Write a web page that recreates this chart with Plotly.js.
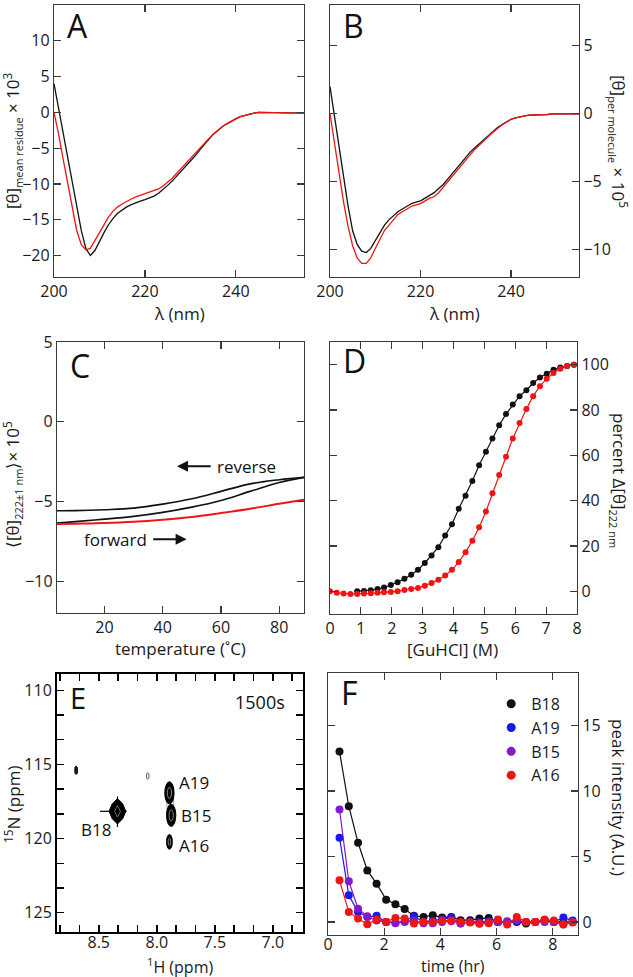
<!DOCTYPE html>
<html><head><meta charset="utf-8">
<script src="https://cdn.plot.ly/plotly-3.0.1.min.js"></script>
<style>html,body{margin:0;padding:0;background:#fff}</style>
</head><body>
<div id="chart" style="width:633px;height:977px"></div>
<script>
// ---- Panel A / B : CD spectra ----
const wavelength = [200,201,202,203,204,205,206,207,208,209,210,211,212,213,214,215,216,217,218,219,220,221,222,223,224,225,226,227,228,229,230,231,232,233,234,235,236,237,238,239,240,241,242,243,244,245,246,247,248,249,250,251,252,253,254,255];
const aBlack = [4.0,0.6,-2.9,-6.3,-9.7,-13.2,-16.5,-19.0,-20.0,-19.3,-18.0,-16.8,-15.7,-14.8,-14.1,-13.6,-13.2,-12.9,-12.6,-12.4,-12.2,-12.0,-11.7,-11.3,-10.8,-10.2,-9.6,-8.9,-8.3,-7.6,-6.9,-6.1,-5.3,-4.5,-3.8,-3.1,-2.5,-2.0,-1.6,-1.2,-0.9,-0.6,-0.4,-0.2,-0.1,0.0,0.0,0.0,0.0,0.0,0.0,0.0,0.0,-0.1,-0.1,-0.1];
const aRed   = [0.0,-3.0,-6.5,-10.0,-13.5,-16.5,-18.5,-19.2,-19.0,-17.9,-16.7,-15.6,-14.6,-13.8,-13.2,-12.8,-12.4,-12.1,-11.8,-11.6,-11.4,-11.2,-11.0,-10.7,-10.3,-9.8,-9.2,-8.5,-7.8,-7.1,-6.4,-5.7,-5.0,-4.3,-3.7,-3.1,-2.5,-2.0,-1.6,-1.2,-0.9,-0.6,-0.4,-0.2,-0.1,0.0,0.0,0.0,0.0,0.0,0.0,0.0,0.0,-0.1,-0.1,-0.1];
const bBlack = [2.0,-0.2,-2.4,-4.6,-6.8,-8.6,-9.6,-10.1,-10.2,-9.9,-9.3,-8.7,-8.2,-7.8,-7.5,-7.2,-7.0,-6.8,-6.6,-6.5,-6.4,-6.2,-6.0,-5.8,-5.5,-5.2,-4.8,-4.4,-4.0,-3.6,-3.2,-2.8,-2.5,-2.2,-1.9,-1.6,-1.3,-1.0,-0.8,-0.6,-0.4,-0.3,-0.2,-0.15,-0.1,-0.1,-0.05,-0.05,-0.05,0.0,0.0,0.0,0.0,0.0,0.0,0.0];
const bRed   = [0.0,-2.2,-4.4,-6.5,-8.3,-9.7,-10.6,-11.0,-11.0,-10.6,-9.9,-9.2,-8.6,-8.2,-7.8,-7.4,-7.2,-7.0,-6.8,-6.7,-6.6,-6.4,-6.2,-6.1,-5.8,-5.4,-5.0,-4.6,-4.2,-3.8,-3.4,-3.0,-2.6,-2.3,-1.95,-1.65,-1.35,-1.05,-0.8,-0.6,-0.4,-0.3,-0.2,-0.15,-0.1,-0.1,-0.05,-0.05,-0.05,0.0,0.0,0.0,0.0,0.0,0.0,0.0];

// ---- Panel C : thermal melt ----
const cTemp    = [3.7,10,20,30,40,50,60,70,80,88.5];
const cReverse = [-5.59,-5.58,-5.52,-5.42,-5.17,-4.83,-4.37,-3.90,-3.64,-3.49];
const cForward = [-6.36,-6.27,-6.11,-5.94,-5.69,-5.36,-4.94,-4.37,-3.81,-3.49];
const cRed     = [-6.42,-6.40,-6.36,-6.28,-6.15,-5.98,-5.73,-5.46,-5.15,-4.90];

// ---- Panel D : GuHCl denaturation ----
const dGuRed = [0,0.22,0.44,0.66,0.88,1.10,1.32,1.54,1.75,1.97,2.19,2.41,2.63,2.85,3.07,3.29,3.51,3.73,3.95,4.17,4.39,4.61,4.83,5.05,5.26,5.48,5.70,5.92,6.14,6.36,6.58,6.80,7.02,7.24,7.46,7.68,7.90];
const dRed   = [0,-0.6,-1.0,-1.2,-1.2,-1.0,-0.9,-0.6,-0.4,-0.3,0,0.6,1.0,1.5,2.5,3.7,5.1,7.0,9.5,12.9,17.2,22.3,28.3,35.2,43.3,51.3,59.4,67.4,74.3,80.4,86.1,90.5,93.8,96.3,98.2,99.4,100];
const dGuBlack = [0.88,1.10,1.32,1.54,1.75,1.97,2.19,2.41,2.63,2.85,3.07,3.29,3.51,3.73,3.95,4.17,4.39,4.61,4.83,5.05,5.26,5.48,5.70,5.92,6.14,6.36,6.58,6.80,7.02,7.24,7.46,7.68,7.90];
const dBlack   = [0.0,0.1,0.5,1.0,1.7,2.8,4.0,5.5,7.3,9.5,12.5,15.8,19.5,24.6,29.6,36.4,42.2,48.7,55.6,61.6,67.4,73.3,78.2,82.4,86.1,88.7,91.9,94.3,96.0,97.8,98.7,99.4,100];

// ---- Panel E : HSQC peaks ----
const peakLabels = ['B18','A19','B15','A16'];
const peakH  = [8.339, 7.891, 7.876, 7.891];
const peakN  = [118.16, 116.92, 118.43, 120.22];
const peakHalfH = [0.072, 0.040, 0.040, 0.025];
const peakHalfN = [0.85, 0.75, 0.75, 0.50];
const minorH = [8.695, 8.078];
const minorN = [115.39, 115.78];
const labelH = [8.374, 7.830, 7.808, 7.830];
const labelN = [119.37, 116.25, 118.45, 120.45];

// ---- Panel F : peak intensity decay ----
const fTime = [0.41,0.74,1.07,1.40,1.73,2.07,2.40,2.73,3.06,3.40,3.73,4.06,4.39,4.72,5.06,5.39,5.72,6.05,6.38,6.72,7.05,7.38,7.71,8.04,8.38,8.71];
const fB18 = [13.0,8.83,6.04,3.93,2.92,1.70,1.35,0.99,0.46,0.38,0.51,0.33,0.38,0.13,0.13,0.25,0.30,0.0,0.0,0.0,-0.13,0.0,0.1,0.0,0.0,0.0];
const fA19 = [6.42,2.03,0.76,0.38,0.46,0.0,-0.05,0.05,0.43,0.0,0.1,0.2,0.33,-0.13,0.0,0.0,0.05,0.0,-0.05,0.05,0.0,0.0,0.1,0.0,0.33,0.1];
const fB15 = [8.58,3.10,1.00,0.43,0.10,0.0,-0.1,0.0,0.1,-0.1,-0.1,0.0,0.05,-0.1,0.0,-0.1,0.0,0.0,0.05,0.1,0.0,0.0,0.0,0.0,-0.2,0.0];
const fA16 = [3.17,0.76,0.25,-0.18,0.18,0.0,0.3,0.25,-0.13,0.0,0.0,0.1,0.1,0.0,-0.05,-0.15,-0.1,0.18,-0.2,0.38,0.0,0.0,0.18,0.1,-0.18,-0.05];

const FONT = 'Open Sans, sans-serif';
const BLUE = 'rgb(25,25,235)', PURPLE = 'rgb(130,25,205)', RED = 'rgb(240,20,20)';

const traces = [];
function line(x,y,xa,ya,color,w,shape){traces.push({x:x,y:y,xaxis:xa,yaxis:ya,mode:'lines',line:{color:color,width:w,shape:shape||'linear'},showlegend:false,hoverinfo:'skip'});}
function lm(x,y,xa,ya,color,ms){traces.push({x:x,y:y,xaxis:xa,yaxis:ya,mode:'lines+markers',line:{color:color,width:1.2},marker:{color:color,size:ms},showlegend:false,hoverinfo:'skip'});}

line(wavelength,aBlack,'x','y','#111',1.3);
line(wavelength,aRed,'x','y',RED,1.3);
line(wavelength,bBlack,'x2','y2','#111',1.3);
line(wavelength,bRed,'x2','y2',RED,1.3);
line(cTemp,cReverse,'x3','y3','#111',1.6,'spline');
line(cTemp,cForward,'x3','y3','#111',1.6,'spline');
line(cTemp,cRed,'x3','y3',RED,2.0,'spline');
lm(dGuBlack,dBlack,'x4','y4','#111',6);
lm(dGuRed,dRed,'x4','y4',RED,6);
lm(fTime,fB18,'x6','y6','#111',8);
lm(fTime,fA19,'x6','y6',BLUE,8);
lm(fTime,fB15,'x6','y6',PURPLE,8);
lm(fTime,fA16,'x6','y6',RED,8);
// legend-only entries (markers only)
[['B18','#111'],['A19',BLUE],['B15',PURPLE],['A16',RED]].forEach(function(p){
  traces.push({x:[null],y:[null],xaxis:'x6',yaxis:'y6',mode:'markers',name:p[0],marker:{color:p[1],size:9},showlegend:true});
});

// Panel E peaks as shapes through axis scales
const shapes = [];
shapes.push({type:'circle',xref:'x5',yref:'y5',x0:peakH[1]+0.022,x1:peakH[2]-0.022,y0:peakN[1]-0.3,y1:peakN[2]+0.3,line:{color:'#888',width:0.8},fillcolor:'rgba(0,0,0,0)'});
for(let i=1;i<4;i++){
  shapes.push({type:'circle',xref:'x5',yref:'y5',x0:peakH[i]-peakHalfH[i],x1:peakH[i]+peakHalfH[i],y0:peakN[i]-peakHalfN[i],y1:peakN[i]+peakHalfN[i],line:{color:'#000',width:1},fillcolor:'#000'});
  shapes.push({type:'circle',xref:'x5',yref:'y5',x0:peakH[i]-peakHalfH[i]*0.45,x1:peakH[i]+peakHalfH[i]*0.45,y0:peakN[i]-peakHalfN[i]*0.5,y1:peakN[i]+peakHalfN[i]*0.5,line:{color:'#bbb',width:0.7},fillcolor:'rgba(0,0,0,0)'});
}
// B18 diamond-like peak (convex outline from centre and half-widths)
const h0=peakH[0], n0=peakN[0], hw=peakHalfH[0], hn=peakHalfN[0];
traces.push({x:[h0+hw,h0+hw*0.62,h0,h0-hw*0.62,h0-hw,h0-hw*0.62,h0,h0+hw*0.62,h0+hw],
  y:[n0,n0-hn*0.6,n0-hn,n0-hn*0.6,n0,n0+hn*0.6,n0+hn,n0+hn*0.6,n0],
  xaxis:'x5',yaxis:'y5',mode:'lines',fill:'toself',fillcolor:'#000',line:{color:'#000',width:1},showlegend:false,hoverinfo:'skip'});
traces.push({x:[h0+0.15,h0-0.08],y:[n0,n0],xaxis:'x5',yaxis:'y5',mode:'lines',line:{color:'#000',width:1.2},showlegend:false,hoverinfo:'skip'});
traces.push({x:[h0,h0],y:[n0-1.0,n0+1.05],xaxis:'x5',yaxis:'y5',mode:'lines',line:{color:'#000',width:1.2},showlegend:false,hoverinfo:'skip'});
traces.push({x:[h0+hw*0.35,h0,h0-hw*0.35,h0,h0+hw*0.35],y:[n0,n0-hn*0.45,n0,n0+hn*0.45,n0],xaxis:'x5',yaxis:'y5',mode:'lines',line:{color:'#999',width:0.7},showlegend:false,hoverinfo:'skip'});
// minor peaks
shapes.push({type:'circle',xref:'x5',yref:'y5',x0:minorH[0]-0.012,x1:minorH[0]+0.012,y0:minorN[0]-0.28,y1:minorN[0]+0.28,line:{color:'#000',width:1},fillcolor:'#222'});
shapes.push({type:'circle',xref:'x5',yref:'y5',x0:minorH[1]-0.011,x1:minorH[1]+0.011,y0:minorN[1]-0.22,y1:minorN[1]+0.22,line:{color:'#333',width:0.8},fillcolor:'rgba(0,0,0,0)'});

function ax(extra){
  return Object.assign({showgrid:false,zeroline:false,showline:true,linecolor:'#3a3a3a',linewidth:1.2,mirror:'ticks',
    ticks:'inside',ticklen:7,tickwidth:1.2,tickcolor:'#3a3a3a',tickfont:{family:FONT,size:16,color:'#1a1a1a'}},extra);
}
const W=633,H=977;
function dx(a,b){return [a/W,b/W];}
function dy(top,bot){return [1-bot/H,1-top/H];}

const layout = {
  width:W,height:H,margin:{l:0,r:0,t:0,b:0},paper_bgcolor:'#fff',plot_bgcolor:'rgba(0,0,0,0)',
  font:{family:FONT,color:'#1a1a1a'},
  showlegend:true,
  legend:{x:0.776,y:0.297,xanchor:'left',yanchor:'top',bgcolor:'rgba(0,0,0,0)',font:{family:FONT,size:16,color:'#1a1a1a'},tracegroupgap:0,itemwidth:30},
  xaxis: ax({domain:dx(54,304),range:[200,255],dtick:20,anchor:'y'}),
  yaxis: ax({domain:dy(5,277),range:[-23,15],dtick:5,anchor:'x'}),
  xaxis2:ax({domain:dx(330,579),range:[200,255],dtick:20,anchor:'y2'}),
  yaxis2:ax({domain:dy(5,277),range:[-12,8],dtick:5,anchor:'x2',side:'right'}),
  xaxis3:ax({domain:dx(57,304),range:[3.7,88.5],tickvals:[20,40,60,80],anchor:'y3'}),
  yaxis3:ax({domain:dy(342,613),range:[-12,5],dtick:5,anchor:'x3'}),
  xaxis4:ax({domain:dx(330,577),range:[0,8],dtick:1,anchor:'y4'}),
  yaxis4:ax({domain:dy(342,614),range:[-10,110],tickvals:[0,20,40,60,80,100],anchor:'x4',side:'right'}),
  xaxis5:ax({domain:dx(57,303),range:[8.86,6.74],tick0:7,dtick:0.5,tickformat:'.1f',anchor:'y5',linecolor:'#000',linewidth:2,tickcolor:'#000',tickwidth:1.5,ticklabelstandoff:-5,
    minor:{dtick:0.5/3,ticks:'inside',ticklen:7,tickcolor:'#000',tickwidth:1.5}}),
  yaxis5:ax({domain:dy(674,932),range:[126.3,108.9],tick0:110,dtick:5,anchor:'x5',linecolor:'#000',linewidth:2,tickcolor:'#000',tickwidth:1.5,
    minor:{dtick:5/3,ticks:'inside',ticklen:7,tickcolor:'#000',tickwidth:1.5}}),
  xaxis6:ax({domain:dx(328,578),range:[0,8.9],dtick:2,anchor:'y6',ticklabelstandoff:-5}),
  yaxis6:ax({domain:dy(673,935),range:[-1,19],tickvals:[0,5,10,15],anchor:'x6',side:'right'}),
  shapes:shapes,
  annotations:[]
};

const ann = layout.annotations;
function ptext(text,x,y,size,angle){ann.push({text:text,xref:'paper',yref:'paper',x:x/W,y:1-y/H,xanchor:'center',yanchor:'middle',showarrow:false,textangle:angle||0,font:{family:FONT,size:size,color:'#1a1a1a'}});}
function letter(t,xa,ya,size,yy){ann.push({text:t,xref:xa+' domain',yref:ya+' domain',x:0.045,y:yy,xanchor:'left',yanchor:'top',showarrow:false,font:{family:FONT,size:size,color:'#111'}});}
letter('A','x','y',32,1.011); letter('B','x2','y2',32,1.011); letter('C','x3','y3',32,1.0);
letter('D','x4','y4',32,1.018); letter('E','x5','y5',29,0.993); letter('F','x6','y6',32,1.016);

const SUB = 'font-size:11px';
ptext('λ (nm)',179,313,17);
ptext('λ (nm)',455,313,17);
ptext('temperature (˚C)',180,648,17);
ptext('[GuHCl] (M)',453,649,17);
ptext('<sup>1</sup>H (ppm)',180,966,16);
ptext('time (hr)',453,966,16);
ptext('[θ]<sub><span style="'+SUB+'">mean residue</span></sub> × 10<sup>3</sup>',12,141,17,-90);
ptext('⟨[θ]<sub><span style="'+SUB+'">222±1 nm</span></sub>⟩× 10<sup>5</sup>',13,485,17,-90);
ptext('<sup>15</sup>N (ppm)',12,805,17,-90);
ptext('[θ]<sub><span style="'+SUB+'">per molecule</span></sub> × 10<sup>5</sup>',619,141,17,90);
ptext('percent Δ[θ]<sub><span style="'+SUB+'">222 nm</span></sub>',619,480,17,90);
ptext('peak intensity (A.U.)',619,797,17,90);

// panel C arrows and labels
ann.push({text:'reverse',xref:'x3',yref:'y3',x:58,y:-2.8,xanchor:'left',yanchor:'middle',showarrow:false,font:{family:FONT,size:17,color:'#111'}});
ann.push({text:' ',xref:'x3',yref:'y3',x:44.9,y:-2.8,axref:'x3',ayref:'y3',ax:57.5,ay:-2.8,showarrow:true,arrowhead:2,arrowsize:1.1,arrowwidth:2,arrowcolor:'#111'});
ann.push({text:'forward',xref:'x3',yref:'y3',x:35.2,y:-7.37,xanchor:'right',yanchor:'middle',showarrow:false,font:{family:FONT,size:17,color:'#111'}});
ann.push({text:' ',xref:'x3',yref:'y3',x:48.2,y:-7.37,axref:'x3',ayref:'y3',ax:35.7,ay:-7.37,showarrow:true,arrowhead:2,arrowsize:1.1,arrowwidth:2,arrowcolor:'#111'});

// panel E labels
for(let i=0;i<4;i++){
  ann.push({text:peakLabels[i],xref:'x5',yref:'y5',x:labelH[i],y:labelN[i],xanchor:i===0?'right':'left',yanchor:'middle',showarrow:false,font:{family:FONT,size:17,color:'#111'}});
}
ann.push({text:'1500s',xref:'x5 domain',yref:'y5 domain',x:0.935,y:0.89,xanchor:'right',yanchor:'middle',showarrow:false,font:{family:FONT,size:18,color:'#111'}});

Plotly.newPlot('chart',traces,layout,{displayModeBar:false,staticPlot:true});
</script>
</body></html>
